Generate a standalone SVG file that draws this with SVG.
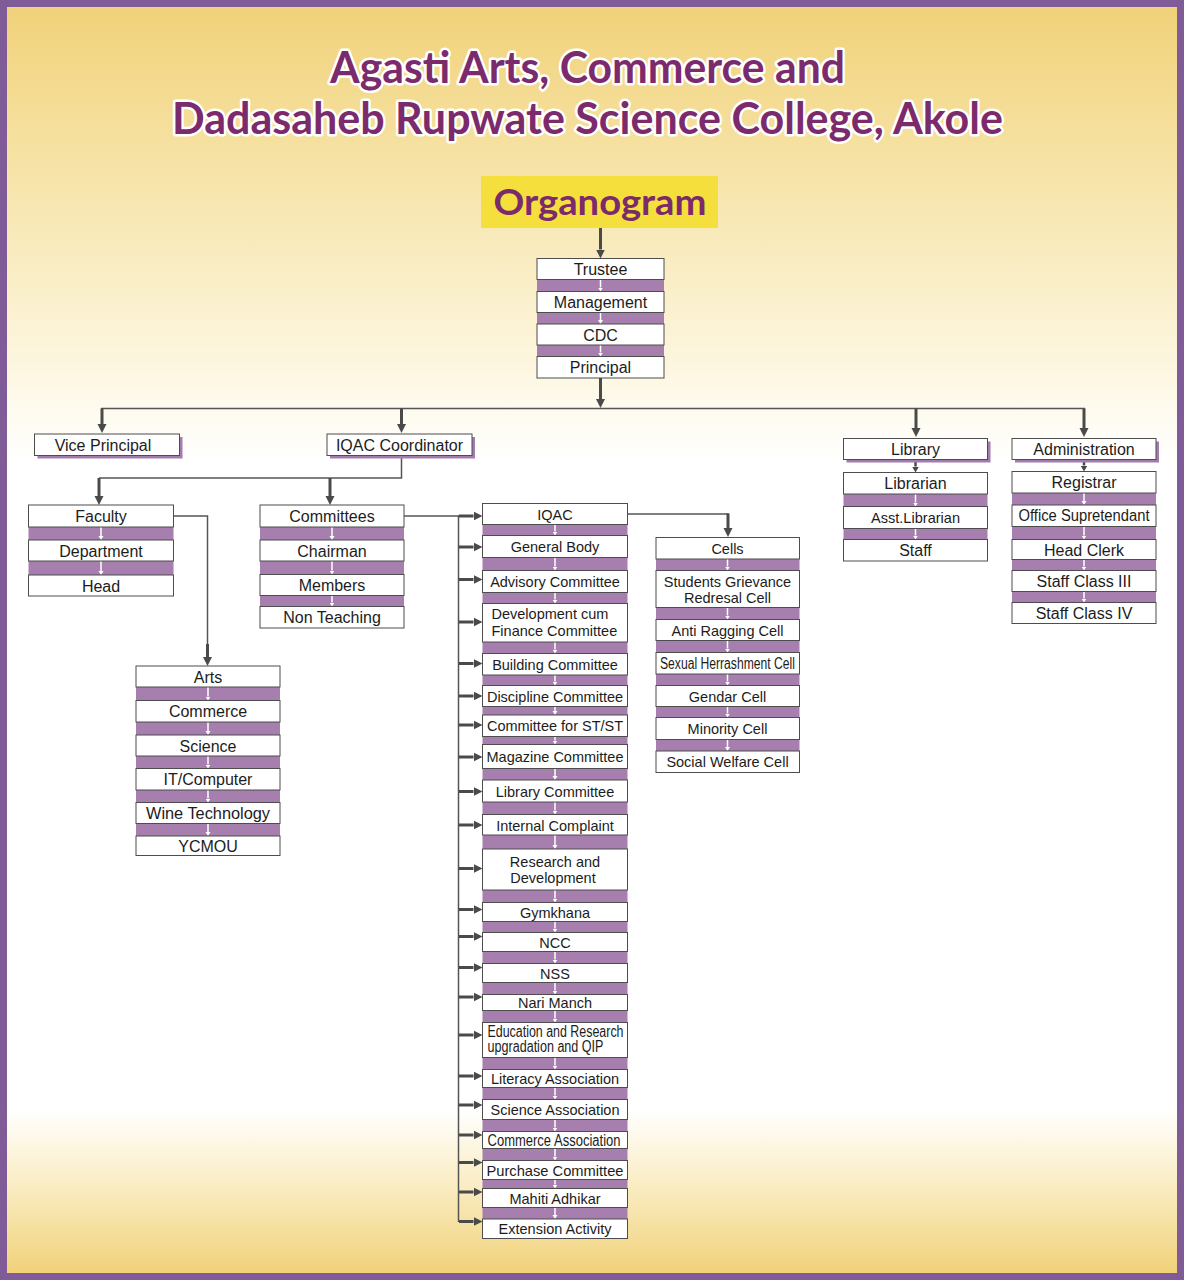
<svg xmlns="http://www.w3.org/2000/svg" width="1184" height="1280" viewBox="0 0 1184 1280">
<defs>
<linearGradient id="bg" x1="0" y1="0" x2="0" y2="1">
<stop offset="0" stop-color="#f1d27a"/>
<stop offset="0.12" stop-color="#f6e2a4"/>
<stop offset="0.28" stop-color="#fdf6df"/>
<stop offset="0.36" stop-color="#ffffff"/>
<stop offset="0.87" stop-color="#ffffff"/>
<stop offset="0.93" stop-color="#faedc4"/>
<stop offset="1" stop-color="#f1d27a"/>
</linearGradient>
<marker id="ah" markerUnits="userSpaceOnUse" markerWidth="10" markerHeight="10" viewBox="0 -5 10 10" refX="0" refY="0" orient="auto"><path d="M0,-4.5 L9,0 L0,4.5 z" fill="#4a4a4a"/></marker>
<marker id="ahs" markerUnits="userSpaceOnUse" markerWidth="8" markerHeight="8" viewBox="0 -4 8 8" refX="0" refY="0" orient="auto"><path d="M0,-3.5 L6,0 L0,3.5 z" fill="#4a4a4a"/></marker>
<marker id="wa" markerUnits="userSpaceOnUse" markerWidth="6" markerHeight="6" viewBox="0 -3 6 6" refX="0" refY="0" orient="auto"><path d="M0,-2.5 L4,0 L0,2.5 z" fill="#ffffff"/></marker>
<style>
.b{fill:#ffffff;stroke:#4d4d4d;stroke-width:1}
.sh{fill:#a27cad}
.band{fill:#a77fae}
.t{font-family:"Liberation Sans",Arial,sans-serif;font-size:16px;fill:#1c1c1c;text-anchor:middle}
.s{font-size:14.5px}
.l{text-anchor:start}
.wa{stroke:#ffffff;stroke-width:1.5;marker-end:url(#wa)}
.ar{stroke:#4a4a4a;stroke-width:3;fill:none;marker-end:url(#ah)}
.ars{stroke:#4a4a4a;stroke-width:2.5;fill:none;marker-end:url(#ahs)}
.ln{stroke:#555555;stroke-width:1.5;fill:none}
.title{font-family:Lato,"Open Sans",sans-serif;font-weight:700;fill:#7b2b6c;stroke:#ffffff;stroke-width:5;stroke-linejoin:round;paint-order:stroke;text-anchor:middle}
.org{font-family:Lato,"Open Sans",sans-serif;font-weight:700;fill:#7b2b6c;text-anchor:middle}
</style>
</defs>

<rect x="0" y="0" width="1184" height="1280" fill="#7f5b97"/>
<rect x="7" y="7" width="1170" height="1266" fill="url(#bg)"/>

<g id="title">
<text class="title" x="587.5" y="83" font-size="44" textLength="515" lengthAdjust="spacingAndGlyphs">Agasti Arts, Commerce and</text>
<text class="title" x="587.5" y="134" font-size="44" textLength="831" lengthAdjust="spacingAndGlyphs">Dadasaheb Rupwate Science College, Akole</text>
</g>

<g id="connectors">
<line class="ar" x1="600.5" y1="228" x2="600.5" y2="249.5"/>
<line class="ar" x1="600.5" y1="378" x2="600.5" y2="399"/>
<line class="ln" x1="101" y1="408.5" x2="1085" y2="408.5"/>
<line class="ar" x1="102" y1="408.5" x2="102" y2="424"/>
<line class="ar" x1="401.5" y1="408.5" x2="401.5" y2="424"/>
<line class="ar" x1="916" y1="408.5" x2="916" y2="428"/>
<line class="ar" x1="1084" y1="408.5" x2="1084" y2="428"/>
<polyline class="ln" points="401.5,455.5 401.5,478 99,478"/>
<line class="ar" x1="99" y1="478" x2="99" y2="496"/>
<line class="ar" x1="330" y1="478" x2="330" y2="496"/>
<polyline class="ln" points="173.5,516 207.5,516 207.5,645"/>
<line class="ar" x1="207.5" y1="644" x2="207.5" y2="657"/>
<line class="ln" x1="404" y1="516" x2="459" y2="516"/>
<line class="ln" x1="458.5" y1="515.5" x2="458.5" y2="1222"/>
<polyline class="ln" points="627.5,514 728,514 728,520"/>
<line class="ar" x1="728" y1="513.5" x2="728" y2="528"/>
<line class="ars" x1="915.5" y1="459.5" x2="915.5" y2="466.5"/>
<line class="ars" x1="1084" y1="459.5" x2="1084" y2="465.5"/>
<g id="bus-arrows">
<line class="ar" x1="459" y1="516" x2="473.5" y2="516"/>
<line class="ar" x1="459" y1="547" x2="473.5" y2="547"/>
<line class="ar" x1="459" y1="579.5" x2="473.5" y2="579.5"/>
<line class="ar" x1="459" y1="622" x2="473.5" y2="622"/>
<line class="ar" x1="459" y1="663.5" x2="473.5" y2="663.5"/>
<line class="ar" x1="459" y1="696" x2="473.5" y2="696"/>
<line class="ar" x1="459" y1="725" x2="473.5" y2="725"/>
<line class="ar" x1="459" y1="757" x2="473.5" y2="757"/>
<line class="ar" x1="459" y1="791.5" x2="473.5" y2="791.5"/>
<line class="ar" x1="459" y1="825" x2="473.5" y2="825"/>
<line class="ar" x1="459" y1="868.5" x2="473.5" y2="868.5"/>
<line class="ar" x1="459" y1="909.5" x2="473.5" y2="909.5"/>
<line class="ar" x1="459" y1="936.5" x2="473.5" y2="936.5"/>
<line class="ar" x1="459" y1="967.5" x2="473.5" y2="967.5"/>
<line class="ar" x1="459" y1="997" x2="473.5" y2="997"/>
<line class="ar" x1="459" y1="1035" x2="473.5" y2="1035"/>
<line class="ar" x1="459" y1="1076" x2="473.5" y2="1076"/>
<line class="ar" x1="459" y1="1105" x2="473.5" y2="1105"/>
<line class="ar" x1="459" y1="1135" x2="473.5" y2="1135"/>
<line class="ar" x1="459" y1="1162.5" x2="473.5" y2="1162.5"/>
<line class="ar" x1="459" y1="1192" x2="473.5" y2="1192"/>
<line class="ar" x1="459" y1="1221.5" x2="473.5" y2="1221.5"/>
</g>
<g id="bands">
<rect class="band" x="537" y="279.5" width="127" height="12"/><line class="wa" x1="600.5" y1="279.5" x2="600.5" y2="287.5"/>
<rect class="band" x="537" y="312.5" width="127" height="11.5"/><line class="wa" x1="600.5" y1="312.5" x2="600.5" y2="320"/>
<rect class="band" x="537" y="345" width="127" height="11.5"/><line class="wa" x1="600.5" y1="345" x2="600.5" y2="352.5"/>
<rect class="band" x="28.5" y="527" width="145" height="13"/><line class="wa" x1="101" y1="527" x2="101" y2="536"/>
<rect class="band" x="28.5" y="561" width="145" height="14"/><line class="wa" x1="101" y1="561" x2="101" y2="571"/>
<rect class="band" x="260" y="527" width="144" height="13"/><line class="wa" x1="332" y1="527" x2="332" y2="536"/>
<rect class="band" x="260" y="561" width="144" height="13.5"/><line class="wa" x1="332" y1="561" x2="332" y2="570.5"/>
<rect class="band" x="260" y="595.5" width="144" height="11"/><line class="wa" x1="332" y1="595.5" x2="332" y2="602.5"/>
<rect class="band" x="136" y="687" width="144" height="13.5"/><line class="wa" x1="208" y1="687" x2="208" y2="696.5"/>
<rect class="band" x="136" y="722" width="144" height="13"/><line class="wa" x1="208" y1="722" x2="208" y2="731"/>
<rect class="band" x="136" y="756" width="144" height="12.5"/><line class="wa" x1="208" y1="756" x2="208" y2="764.5"/>
<rect class="band" x="136" y="790" width="144" height="12.5"/><line class="wa" x1="208" y1="790" x2="208" y2="798.5"/>
<rect class="band" x="136" y="823.5" width="144" height="12.5"/><line class="wa" x1="208" y1="823.5" x2="208" y2="832"/>
<rect class="band" x="482.5" y="524.5" width="145" height="11"/><line class="wa" x1="555" y1="524.5" x2="555" y2="531.5"/>
<rect class="band" x="482.5" y="557.5" width="145" height="13"/><line class="wa" x1="555" y1="557.5" x2="555" y2="566.5"/>
<rect class="band" x="482.5" y="592.5" width="145" height="11"/><line class="wa" x1="555" y1="592.5" x2="555" y2="599.5"/>
<rect class="band" x="482.5" y="642" width="145" height="11.5"/><line class="wa" x1="555" y1="642" x2="555" y2="649.5"/>
<rect class="band" x="482.5" y="675" width="145" height="10.5"/><line class="wa" x1="555" y1="675" x2="555" y2="681.5"/>
<rect class="band" x="482.5" y="706.5" width="145" height="8.5"/><line class="wa" x1="555" y1="706.5" x2="555" y2="711"/>
<rect class="band" x="482.5" y="736.5" width="145" height="8"/><line class="wa" x1="555" y1="736.5" x2="555" y2="740.5"/>
<rect class="band" x="482.5" y="768.5" width="145" height="11.5"/><line class="wa" x1="555" y1="768.5" x2="555" y2="776"/>
<rect class="band" x="482.5" y="802" width="145" height="12.5"/><line class="wa" x1="555" y1="802" x2="555" y2="810.5"/>
<rect class="band" x="482.5" y="835" width="145" height="14"/><line class="wa" x1="555" y1="835" x2="555" y2="845"/>
<rect class="band" x="482.5" y="890" width="145" height="12.5"/><line class="wa" x1="555" y1="890" x2="555" y2="898.5"/>
<rect class="band" x="482.5" y="921.5" width="145" height="11"/><line class="wa" x1="555" y1="921.5" x2="555" y2="928.5"/>
<rect class="band" x="482.5" y="951.5" width="145" height="12"/><line class="wa" x1="555" y1="951.5" x2="555" y2="959.5"/>
<rect class="band" x="482.5" y="982.5" width="145" height="12"/><line class="wa" x1="555" y1="982.5" x2="555" y2="990.5"/>
<rect class="band" x="482.5" y="1010.5" width="145" height="12"/><line class="wa" x1="555" y1="1010.5" x2="555" y2="1018.5"/>
<rect class="band" x="482.5" y="1057.5" width="145" height="12"/><line class="wa" x1="555" y1="1057.5" x2="555" y2="1065.5"/>
<rect class="band" x="482.5" y="1087.5" width="145" height="12"/><line class="wa" x1="555" y1="1087.5" x2="555" y2="1095.5"/>
<rect class="band" x="482.5" y="1119.5" width="145" height="12"/><line class="wa" x1="555" y1="1119.5" x2="555" y2="1127.5"/>
<rect class="band" x="482.5" y="1148.5" width="145" height="12"/><line class="wa" x1="555" y1="1148.5" x2="555" y2="1156.5"/>
<rect class="band" x="482.5" y="1179.5" width="145" height="9"/><line class="wa" x1="555" y1="1179.5" x2="555" y2="1184.5"/>
<rect class="band" x="482.5" y="1207.5" width="145" height="11.5"/><line class="wa" x1="555" y1="1207.5" x2="555" y2="1215"/>
<rect class="band" x="656" y="559" width="143.5" height="11.5"/><line class="wa" x1="727.5" y1="559" x2="727.5" y2="566.5"/>
<rect class="band" x="656" y="607.5" width="143.5" height="12"/><line class="wa" x1="727.5" y1="607.5" x2="727.5" y2="615.5"/>
<rect class="band" x="656" y="640.5" width="143.5" height="12"/><line class="wa" x1="727.5" y1="640.5" x2="727.5" y2="648.5"/>
<rect class="band" x="656" y="674" width="143.5" height="11.5"/><line class="wa" x1="727.5" y1="674" x2="727.5" y2="681.5"/>
<rect class="band" x="656" y="706.5" width="143.5" height="11"/><line class="wa" x1="727.5" y1="706.5" x2="727.5" y2="713.5"/>
<rect class="band" x="656" y="739.5" width="143.5" height="11.5"/><line class="wa" x1="727.5" y1="739.5" x2="727.5" y2="747"/>
<rect class="band" x="843.5" y="494" width="144" height="12.5"/><line class="wa" x1="915.5" y1="494" x2="915.5" y2="502.5"/>
<rect class="band" x="843.5" y="528.5" width="144" height="11"/><line class="wa" x1="915.5" y1="528.5" x2="915.5" y2="535.5"/>
<rect class="band" x="1012" y="493" width="144" height="12"/><line class="wa" x1="1084" y1="493" x2="1084" y2="501"/>
<rect class="band" x="1012" y="526.5" width="144" height="13"/><line class="wa" x1="1084" y1="526.5" x2="1084" y2="535.5"/>
<rect class="band" x="1012" y="559.5" width="144" height="11"/><line class="wa" x1="1084" y1="559.5" x2="1084" y2="566.5"/>
<rect class="band" x="1012" y="591.5" width="144" height="11"/><line class="wa" x1="1084" y1="591.5" x2="1084" y2="598.5"/>
</g>
</g>

<g id="organogram">
<rect x="481" y="176" width="237" height="52" fill="#f5df3c"/>
<text class="org" x="600" y="215" font-size="36" textLength="213" lengthAdjust="spacingAndGlyphs">Organogram</text>
</g>

<g id="trustee"><rect class="b" x="537" y="258.5" width="127" height="21"/><text class="t" x="600.5" y="275">Trustee</text></g>
<g id="management"><rect class="b" x="537" y="291.5" width="127" height="21"/><text class="t" x="600.5" y="308">Management</text></g>
<g id="cdc"><rect class="b" x="537" y="324" width="127" height="21"/><text class="t" x="600.5" y="340.5">CDC</text></g>
<g id="principal"><rect class="b" x="537" y="356.5" width="127" height="21.5"/><text class="t" x="600.5" y="373">Principal</text></g>

<g id="vice-principal"><rect class="sh" x="37.5" y="437" width="145" height="21.5"/><rect class="b" x="34.5" y="434" width="145" height="21.5"/><text class="t" x="103" y="450.5">Vice Principal</text></g>
<g id="iqac-coordinator"><rect class="sh" x="330" y="437" width="145" height="21.5"/><rect class="b" x="327" y="434" width="145" height="21.5"/><text class="t" x="399.5" y="450.5">IQAC Coordinator</text></g>

<g id="faculty"><rect class="b" x="28.5" y="505" width="145" height="22"/><text class="t" x="101" y="522">Faculty</text></g>
<g id="department"><rect class="b" x="28.5" y="540" width="145" height="21"/><text class="t" x="101" y="556.5">Department</text></g>
<g id="head"><rect class="b" x="28.5" y="575" width="145" height="21"/><text class="t" x="101" y="591.5">Head</text></g>

<g id="committees"><rect class="b" x="260" y="505" width="144" height="22"/><text class="t" x="332" y="522">Committees</text></g>
<g id="chairman"><rect class="b" x="260" y="540" width="144" height="21"/><text class="t" x="332" y="556.5">Chairman</text></g>
<g id="members"><rect class="b" x="260" y="574.5" width="144" height="21"/><text class="t" x="332" y="591">Members</text></g>
<g id="non-teaching"><rect class="b" x="260" y="606.5" width="144" height="21.5"/><text class="t" x="332" y="623">Non Teaching</text></g>

<g id="arts"><rect class="b" x="136" y="666" width="144" height="21"/><text class="t" x="208" y="682.5">Arts</text></g>
<g id="commerce"><rect class="b" x="136" y="700.5" width="144" height="21.5"/><text class="t" x="208" y="717">Commerce</text></g>
<g id="science"><rect class="b" x="136" y="735" width="144" height="21"/><text class="t" x="208" y="751.5">Science</text></g>
<g id="it-computer"><rect class="b" x="136" y="768.5" width="144" height="21.5"/><text class="t" x="208" y="784.5" font-size="14.5">IT/Computer</text></g>
<g id="wine-technology"><rect class="b" x="136" y="802.5" width="144" height="21"/><text class="t" x="208" y="819" textLength="124" lengthAdjust="spacingAndGlyphs">Wine Technology</text></g>
<g id="ycmou"><rect class="b" x="136" y="836" width="144" height="19.5"/><text class="t" x="208" y="851.5">YCMOU</text></g>

<g id="iqac"><rect class="b" x="482.5" y="503.5" width="145" height="21"/><text class="t s" x="555" y="519.5">IQAC</text></g>
<g id="general-body"><rect class="b" x="482.5" y="535.5" width="145" height="22"/><text class="t s" x="555" y="552">General Body</text></g>
<g id="advisory-committee"><rect class="b" x="482.5" y="570.5" width="145" height="22"/><text class="t s" x="555" y="587">Advisory Committee</text></g>
<g id="development-finance"><rect class="b" x="482.5" y="603.5" width="145" height="38.5"/><text class="t s l" x="491.5" y="618.5">Development cum</text><text class="t s l" x="491.5" y="635.5">Finance Committee</text></g>
<g id="building-committee"><rect class="b" x="482.5" y="653.5" width="145" height="21.5"/><text class="t s" x="555" y="669.5">Building Committee</text></g>
<g id="discipline-committee"><rect class="b" x="482.5" y="685.5" width="145" height="21"/><text class="t s" x="555" y="701.5">Discipline Committee</text></g>
<g id="committee-st"><rect class="b" x="482.5" y="715" width="145" height="21.5"/><text class="t s" x="555" y="731">Committee for ST/ST</text></g>
<g id="magazine-committee"><rect class="b" x="482.5" y="744.5" width="145" height="24"/><text class="t s" x="555" y="762">Magazine Committee</text></g>
<g id="library-committee"><rect class="b" x="482.5" y="780" width="145" height="22"/><text class="t s" x="555" y="796.5">Library Committee</text></g>
<g id="internal-complaint"><rect class="b" x="482.5" y="814.5" width="145" height="20.5"/><text class="t s" x="555" y="830.5">Internal Complaint</text></g>
<g id="research-development"><rect class="b" x="482.5" y="849" width="145" height="41"/><text class="t s" x="555" y="867">Research and</text><text class="t s" x="553" y="882.5">Development</text></g>
<g id="gymkhana"><rect class="b" x="482.5" y="902.5" width="145" height="19"/><text class="t s" x="555" y="917.5">Gymkhana</text></g>
<g id="ncc"><rect class="b" x="482.5" y="932.5" width="145" height="19"/><text class="t s" x="555" y="947.5">NCC</text></g>
<g id="nss"><rect class="b" x="482.5" y="963.5" width="145" height="19"/><text class="t s" x="555" y="978.5">NSS</text></g>
<g id="nari-manch"><rect class="b" x="482.5" y="994.5" width="145" height="16"/><text class="t s" x="555" y="1008">Nari Manch</text></g>
<g id="education-research"><rect class="b" x="482.5" y="1022.5" width="145" height="35"/><text class="t l" x="487.5" y="1036.5" font-size="13" textLength="136" lengthAdjust="spacingAndGlyphs">Education and Research</text><text class="t l" x="487.5" y="1051.5" font-size="13" textLength="116" lengthAdjust="spacingAndGlyphs">upgradation and QIP</text></g>
<g id="literacy-association"><rect class="b" x="482.5" y="1069.5" width="145" height="18"/><text class="t s" x="555" y="1084">Literacy Association</text></g>
<g id="science-association"><rect class="b" x="482.5" y="1099.5" width="145" height="20"/><text class="t s" x="555" y="1115">Science Association</text></g>
<g id="commerce-association"><rect class="b" x="482.5" y="1131.5" width="145" height="17"/><text class="t" x="554" y="1145.5" font-size="14" textLength="133" lengthAdjust="spacingAndGlyphs">Commerce Association</text></g>
<g id="purchase-committee"><rect class="b" x="482.5" y="1160.5" width="145" height="19"/><text class="t s" x="555" y="1175.5" textLength="137" lengthAdjust="spacingAndGlyphs">Purchase Committee</text></g>
<g id="mahiti-adhikar"><rect class="b" x="482.5" y="1188.5" width="145" height="19"/><text class="t s" x="555" y="1203.5">Mahiti Adhikar</text></g>
<g id="extension-activity"><rect class="b" x="482.5" y="1219" width="145" height="19.5"/><text class="t s" x="555" y="1234">Extension Activity</text></g>

<g id="cells"><rect class="b" x="656" y="537.5" width="143.5" height="21.5"/><text class="t s" x="727.5" y="553.5">Cells</text></g>
<g id="students-grievance"><rect class="b" x="656" y="570.5" width="143.5" height="37"/><text class="t s" x="727.5" y="586.5">Students Grievance</text><text class="t s" x="727.5" y="603">Redresal Cell</text></g>
<g id="anti-ragging"><rect class="b" x="656" y="619.5" width="143.5" height="21"/><text class="t s" x="727.5" y="635.5">Anti Ragging Cell</text></g>
<g id="sexual-herrashment"><rect class="b" x="656" y="652.5" width="143.5" height="21.5"/><text class="t" x="727.5" y="668.5" font-size="14" textLength="135" lengthAdjust="spacingAndGlyphs">Sexual Herrashment Cell</text></g>
<g id="gendar-cell"><rect class="b" x="656" y="685.5" width="143.5" height="21"/><text class="t s" x="727.5" y="701.5">Gendar Cell</text></g>
<g id="minority-cell"><rect class="b" x="656" y="717.5" width="143.5" height="22"/><text class="t s" x="727.5" y="734">Minority Cell</text></g>
<g id="social-welfare"><rect class="b" x="656" y="751" width="143.5" height="21.5"/><text class="t s" x="727.5" y="767">Social Welfare Cell</text></g>

<g id="library"><rect class="sh" x="846.5" y="441.5" width="144" height="21"/><rect class="b" x="843.5" y="438.5" width="144" height="21"/><text class="t" x="915.5" y="455">Library</text></g>
<g id="librarian"><rect class="b" x="843.5" y="472.5" width="144" height="21.5"/><text class="t" x="915.5" y="489">Librarian</text></g>
<g id="asst-librarian"><rect class="b" x="843.5" y="506.5" width="144" height="22"/><text class="t s" x="915.5" y="523" textLength="89" lengthAdjust="spacingAndGlyphs">Asst.Librarian</text></g>
<g id="staff"><rect class="b" x="843.5" y="539.5" width="144" height="21.5"/><text class="t" x="915.5" y="555.5" font-size="15">Staff</text></g>

<g id="administration"><rect class="sh" x="1015" y="441.5" width="144" height="21"/><rect class="b" x="1012" y="438.5" width="144" height="21"/><text class="t" x="1084" y="455">Administration</text></g>
<g id="registrar"><rect class="b" x="1012" y="471.5" width="144" height="21.5"/><text class="t" x="1084" y="488">Registrar</text></g>
<g id="office-supretendant"><rect class="b" x="1012" y="505" width="144" height="21.5"/><text class="t" x="1084" y="521" font-size="15" textLength="131" lengthAdjust="spacingAndGlyphs">Office Supretendant</text></g>
<g id="head-clerk"><rect class="b" x="1012" y="539.5" width="144" height="20"/><text class="t" x="1084" y="555.5">Head Clerk</text></g>
<g id="staff-class-3"><rect class="b" x="1012" y="570.5" width="144" height="21"/><text class="t" x="1084" y="587">Staff Class III</text></g>
<g id="staff-class-4"><rect class="b" x="1012" y="602.5" width="144" height="21"/><text class="t" x="1084" y="619">Staff Class IV</text></g>
</svg>
